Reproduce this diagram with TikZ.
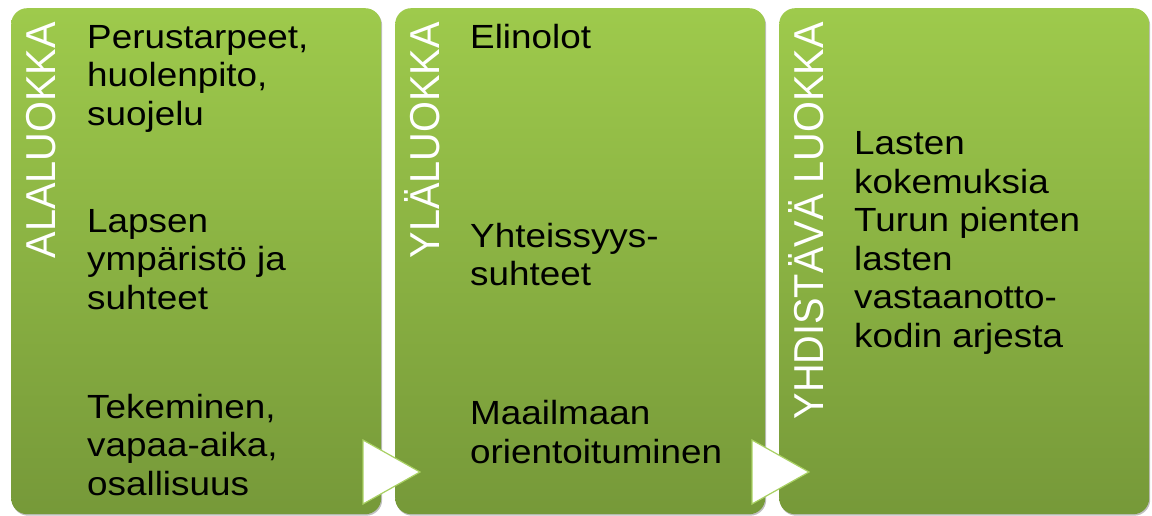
\documentclass[tikz,border=0pt]{standalone}
\usepackage{fontspec}
\newfontfamily\bodyfont[FakeStretch=1.1]{Liberation Sans}
\newfontfamily\vertfont[FakeStretch=0.95]{Liberation Sans}
\usetikzlibrary{shadows}
\definecolor{gtop}{RGB}{158,202,76}
\definecolor{gbot}{RGB}{118,153,57}
\definecolor{triedge}{RGB}{168,208,98}
\tikzset{
  box/.style={rounded corners=16pt, top color=gtop, bottom color=gbot, draw=none,
    minimum width=370pt, minimum height=506pt, anchor=north west, inner sep=0pt,
    drop shadow={shadow xshift=1pt, shadow yshift=-1.5pt, opacity=0.25, fill=black}},
  body/.style={font=\bodyfont\fontsize{33.5}{38.5}\selectfont, align=left,
    anchor=base west, inner sep=0pt, text=black},
  vlabel/.style={font=\vertfont\fontsize{41.8}{46}\selectfont, text=white,
    rotate=90, anchor=base east, inner sep=0pt},
  tri/.style={fill=white, draw=triedge, line width=1.2pt, line join=miter}
}
\begin{document}
\begin{tikzpicture}[x=1pt,y=-1pt]
\useasboundingbox (0,0) rectangle (1152,516);
\fill[white] (0,0) rectangle (1152,516);
% boxes
\node[box] (b1) at (11,8) {};
\node[box] (b2) at (395,8) {};
\node[box] (b3) at (779,8) {};
% arrows between boxes
\draw[tri] (363,440) -- (420,472) -- (363,504) -- cycle;
\draw[tri] (752,440) -- (809,472) -- (752,504) -- cycle;
% vertical labels
\node[vlabel] (l1) at (55,22) {ALALUOKKA};
\node[vlabel] (l2) at (439,22) {YLÄLUOKKA};
\node[vlabel] (l3) at (823,22) {YHDISTÄVÄ LUOKKA};
% box 1 texts (anchored at the baseline of the last line)
\node[body] (t11) at (87,125.5) {Perustarpeet,\\huolenpito,\\suojelu};
\node[body] (t12) at (87,309) {Lapsen\\ympäristö ja\\suhteet};
\node[body] (t13) at (87,495) {Tekeminen,\\vapaa-aika,\\osallisuus};
% box 2 texts
\node[body] (t21) at (470,48.3) {Elinolot};
\node[body] (t22) at (470,285.7) {Yhteissyys-\\suhteet};
\node[body] (t23) at (470,463) {Maailmaan\\orientoituminen};
% box 3 text
\node[body] (t31) at (854,347) {Lasten\\kokemuksia\\Turun pienten\\lasten\\vastaanotto-\\kodin arjesta};
\end{tikzpicture}
\end{document}
